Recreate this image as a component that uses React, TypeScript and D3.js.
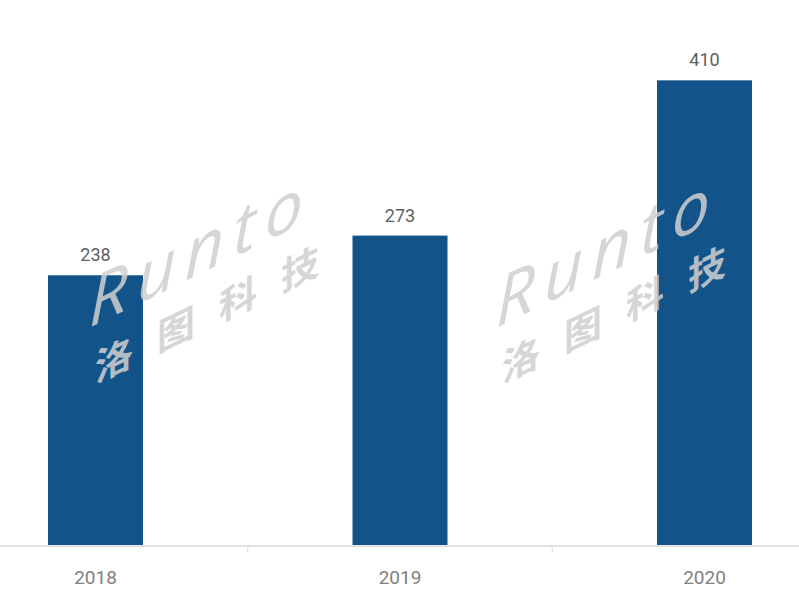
import { scaleBand, scaleLinear } from "d3";

const years = ["2018", "2019", "2020"];
const values = [238, 273, 410];
const watermarkLatin = "Runto";
const watermarkChars = ["洛", "图", "科", "技"];

const W = 799;
const H = 600;
const baseline = 545;

export default function App() {
  const step = 304.5;
  const x = scaleBand<string>()
    .domain(years)
    .range([95.5 - step / 2, 95.5 - step / 2 + step * years.length])
    .paddingInner(0.688)
    .paddingOuter(0.344);
  const y = scaleLinear().domain([0, 450]).range([baseline, 35]);

  const bw = x.bandwidth();
  const tickXs = years.slice(1).map((yr) => (x(yr) ?? 0) - (x.step() - bw) / 2);

  // watermark copies (origin = lower-left of the "洛" glyph row)
  const marks = [
    { ox: 95, oy: 345 },
    { ox: 502, oy: 345 },
  ];
  const skew = -26;

  return (
    <div style={{ position: "absolute", left: 0, top: 0 }}>
      <svg width={W} height={H} style={{ display: "block", background: "#fff" }}>
        {/* axis line */}
        <line x1={0} x2={W} y1={baseline + 1} y2={baseline + 1} stroke="#d9d9d9" strokeWidth={1.5} />
        {tickXs.map((tx, i) => (
          <line key={i} x1={tx} x2={tx} y1={baseline + 1} y2={baseline + 7} stroke="#dcdcdc" strokeWidth={1} />
        ))}

        {/* bars */}
        {years.map((yr, i) => (
          <rect
            key={yr}
            x={x(yr)}
            y={y(values[i])}
            width={bw}
            height={baseline - y(values[i])}
            fill="#12548a"
          />
        ))}

        {/* value labels */}
        {years.map((yr, i) => (
          <text
            key={yr}
            x={(x(yr) ?? 0) + bw / 2}
            y={y(values[i]) - 14}
            textAnchor="middle"
            fontFamily="Roboto, 'Noto Sans', sans-serif"
            fontSize={18}
            fill="#606060"
          >
            {values[i]}
          </text>
        ))}

        {/* category labels */}
        {years.map((yr) => (
          <text
            key={yr}
            x={(x(yr) ?? 0) + bw / 2}
            y={584}
            textAnchor="middle"
            fontFamily="Roboto, 'Noto Sans', sans-serif"
            fontSize={19}
            fill="#808080"
          >
            {yr}
          </text>
        ))}

        {/* watermark */}
        {marks.map((m, k) => (
          <g
            key={k}
            transform={`translate(${m.ox},${m.oy}) skewY(${skew})`}
            opacity={0.85}
            fill="#d0d0d0"
          >
            <text
              x={-6}
              y={-20}
              fontFamily="'Open Sans', 'Noto Sans', sans-serif"
              fontStyle="italic"
              fontWeight={400}
              fontSize={68}
              letterSpacing={9}
            >
              {watermarkLatin}
            </text>
            {watermarkChars.map((c, i) => (
              <text
                key={c}
                x={i * 62}
                y={38}
                fontFamily="'Noto Sans CJK SC', sans-serif"
                fontWeight={700}
                fontSize={38}
              >
                {c}
              </text>
            ))}
          </g>
        ))}
      </svg>
    </div>
  );
}
